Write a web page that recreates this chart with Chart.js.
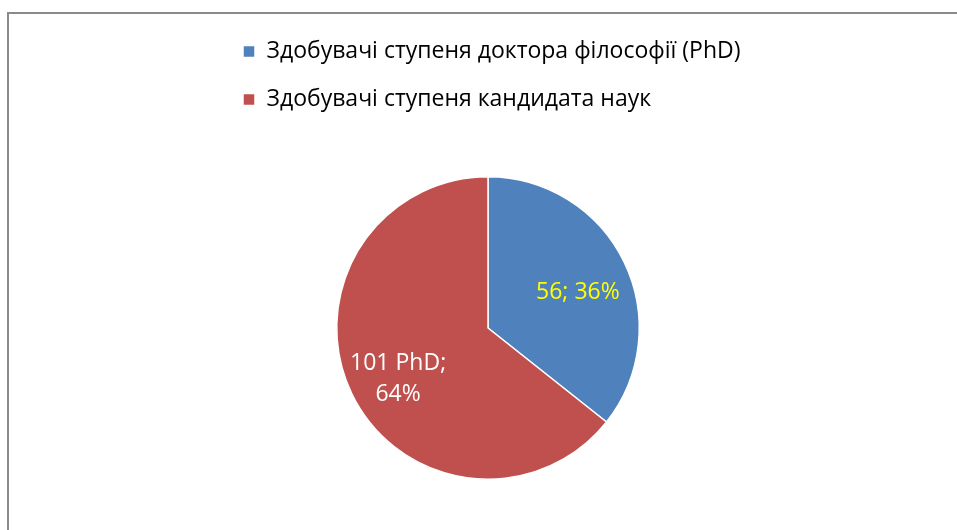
<!DOCTYPE html>
<html>
<head>
<meta charset="utf-8">
<script src="https://cdn.jsdelivr.net/npm/chart.js@4"></script>
<style>
  html, body { margin: 0; padding: 0; background: #fff; overflow: hidden; }
  #wrap { position: relative; width: 957px; height: 530px; }
  #frame {
    position: absolute; left: 7px; top: 12px; right: -10px; bottom: -10px;
    border-top: 2px solid #8a8a8a; border-left: 2px solid #8a8a8a;
  }
  canvas { position: absolute; left: 0; top: 0; }
</style>
</head>
<body>
<div id="wrap">
  <div id="frame"></div>
  <canvas id="grafica" width="957" height="530"></canvas>
</div>
<script>
const categorias = [
  "Здобувачі ступеня доктора філософії (PhD)",
  "Здобувачі ступеня кандидата наук"
];
const valores = [56, 101];
const etiquetas = [["56; 36%"], ["101 PhD;", "64%"]];
const colores = ["#4f81bd", "#c0504d"];
const coloresTexto = ["#ffff00", "#ffffff"];

const fuente = "'Open Sans', 'Liberation Sans', sans-serif";

// etiquetas dentro de cada sector
const etiquetasPlugin = {
  id: "etiquetas",
  afterDatasetsDraw(chart) {
    const ctx = chart.ctx;
    const meta = chart.getDatasetMeta(0);
    meta.data.forEach((arc, i) => {
      const mid = (arc.startAngle + arc.endAngle) / 2;
      const r = arc.outerRadius * 0.66;
      const x = arc.x + Math.cos(mid) * r;
      const y = arc.y + Math.sin(mid) * r + 8;
      const lineas = etiquetas[i];
      const alto = 31;
      ctx.save();
      ctx.font = "23px " + fuente;
      ctx.fillStyle = coloresTexto[i];
      ctx.textAlign = "center";
      ctx.textBaseline = "middle";
      lineas.forEach((t, j) => {
        ctx.fillText(t, x, y + (j - (lineas.length - 1) / 2) * alto);
      });
      ctx.restore();
    });
  }
};

// espacio extra debajo de la leyenda
const leyendaAlto = {
  id: "leyendaAlto",
  beforeInit(chart) {
    const fitOrig = chart.legend.fit;
    chart.legend.fit = function () {
      fitOrig.call(this);
      this.height = 161;
    };
  }
};

new Chart(document.getElementById("grafica"), {
  type: "pie",
  data: {
    labels: categorias,
    datasets: [{
      data: valores,
      backgroundColor: colores,
      borderColor: "#ffffff",
      borderWidth: 1.5
    }]
  },
  options: {
    responsive: false,
    animation: false,
    layout: { padding: { top: 15, left: 218, right: 199, bottom: 50 } },
    plugins: {
      legend: {
        position: "top",
        align: "start",
        labels: {
          boxWidth: 12,
          boxHeight: 12,
          padding: 25,
          color: "#000000",
          font: { family: fuente, size: 23 }
        }
      },
      tooltip: { enabled: false }
    }
  },
  plugins: [leyendaAlto, etiquetasPlugin]
});
</script>
</body>
</html>
